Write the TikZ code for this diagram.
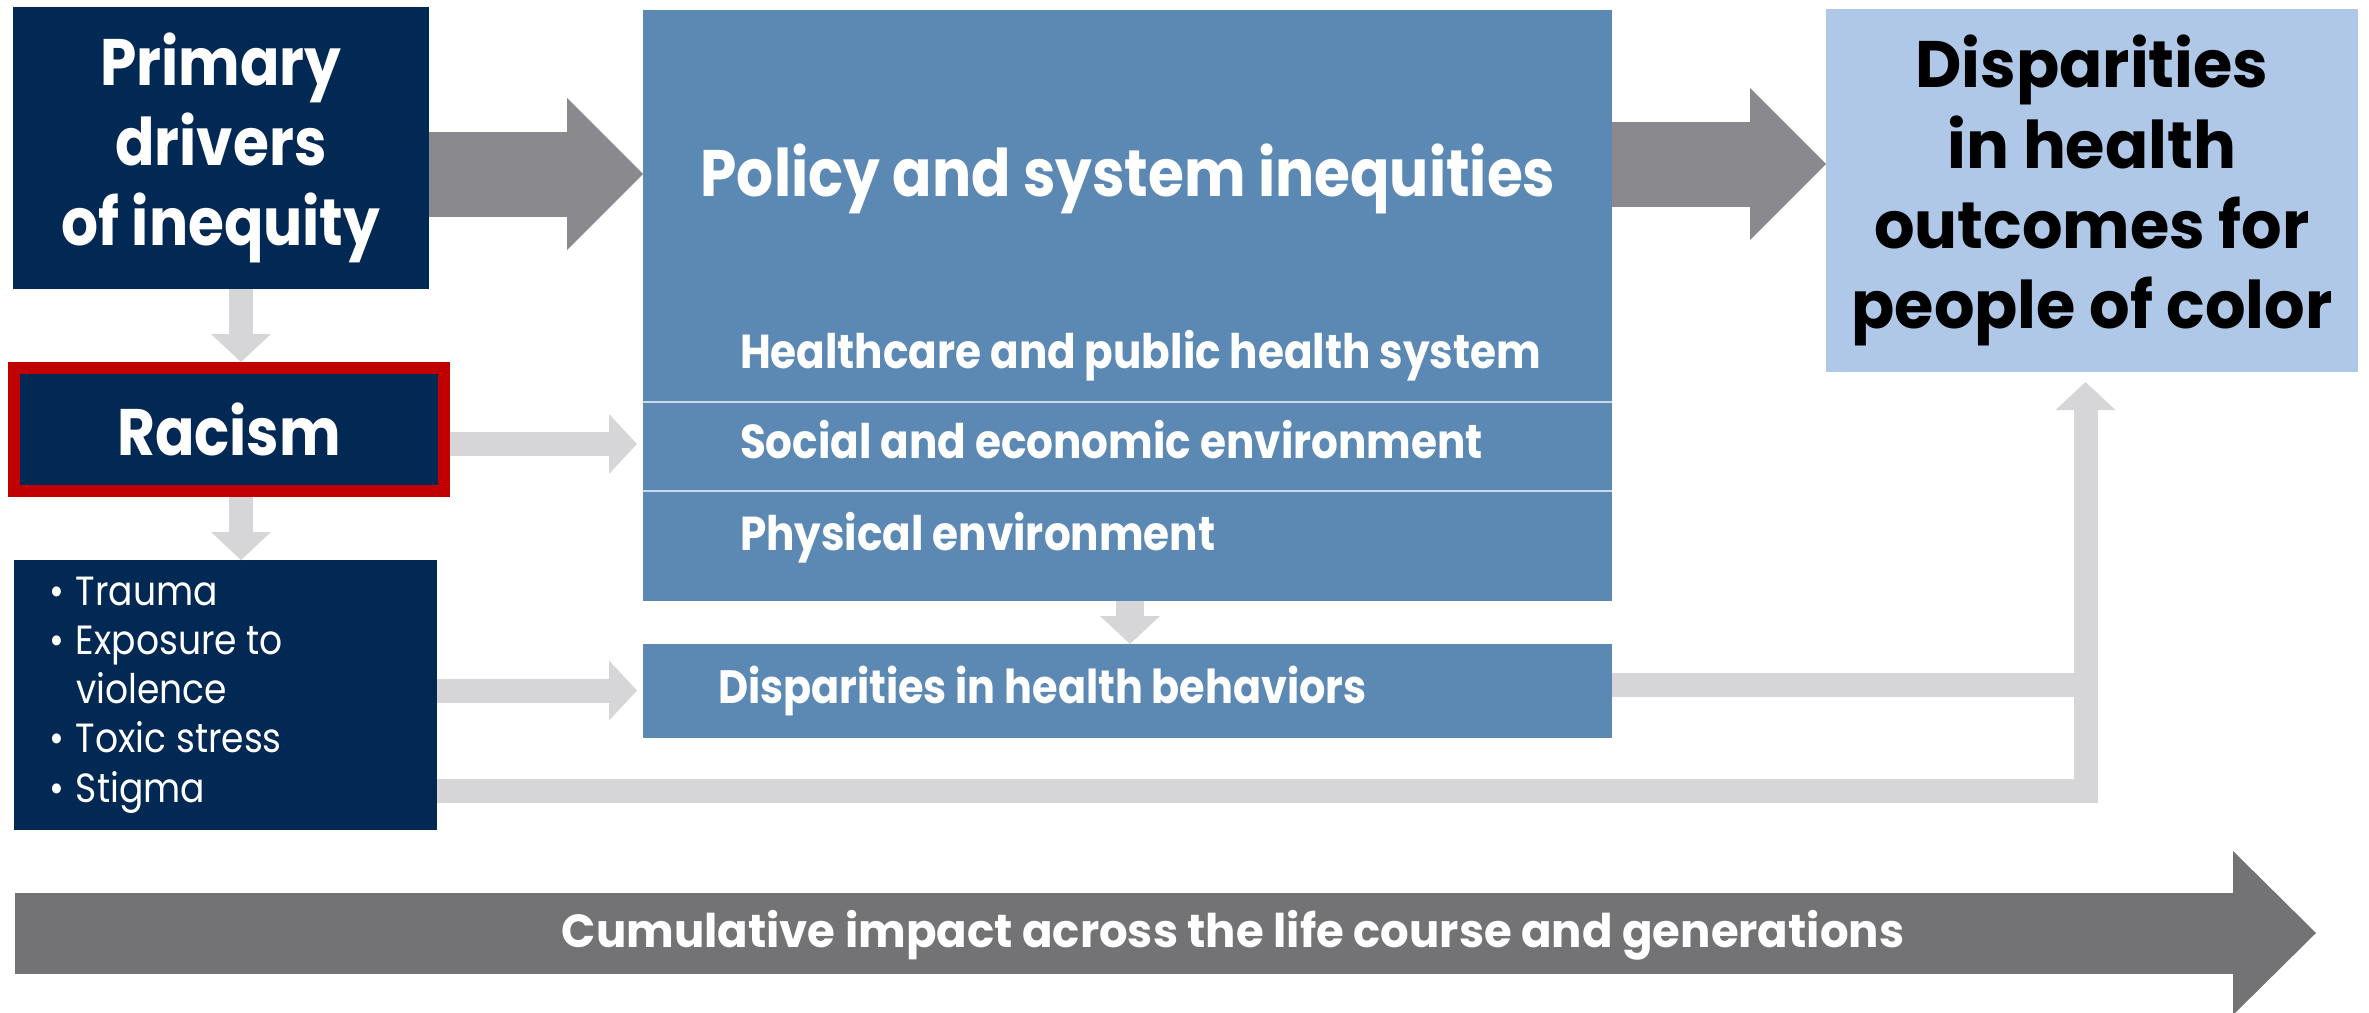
\documentclass[tikz,border=0pt]{standalone}
\usepackage{fontspec}
\setmainfont{Poppins}[FakeStretch=0.885]
\newfontfamily\widefont{Poppins}[FakeStretch=0.97]
\usepackage{tikz}
\usetikzlibrary{arrows.meta}
\definecolor{navy}{RGB}{2,40,84}
\definecolor{racered}{RGB}{192,0,0}
\definecolor{polblue}{RGB}{92,137,180}
\definecolor{lightblue}{RGB}{176,200,232}
\definecolor{arrowgrey}{RGB}{138,137,142}
\definecolor{linkgrey}{RGB}{214,214,217}
\definecolor{bargrey}{RGB}{115,115,117}
\definecolor{divider}{RGB}{200,216,232}
\tikzset{basic/.style={inner sep=0pt,outer sep=0pt,text=white,align=center,
                       font=\bfseries\fontsize{18.7}{22.8}\selectfont}}
\tikzset{darkbox/.style={basic,fill=navy}}
\tikzset{bluebox/.style={basic,fill=polblue}}
\tikzset{bigarrow/.style={draw=arrowgrey,line width=0.85cm,
                          -{Triangle[width=1.52cm,length=0.76cm,line width=0pt]}}}
\tikzset{linkarrow/.style={draw=linkgrey,line width=0.24cm,
                           -{Triangle[width=0.60cm,length=0.28cm,line width=0pt]}}}
\newcommand{\bul}{\makebox[0.27cm][l]{\textbullet}}

\begin{document}
\begin{tikzpicture}[x=1cm,y=-1cm]
  \tikzstyle{subitem}=[basic,anchor=base west,font=\bfseries\fontsize{13.55}{16}\selectfont]
  \useasboundingbox (0,0) rectangle (23.69,10.13);
  % left column
  \node (primary) [darkbox,minimum width=4.16cm,minimum height=2.82cm] at (2.21,1.48)
        {Primary\\drivers\\of inequity};
  \node (racism) [darkbox,draw=racered,line width=0.12cm,outer sep=0.06cm,
                  minimum width=4.30cm,minimum height=1.23cm] at (2.29,4.295) {Racism};
  \node (traits) [darkbox,font=\fontsize{11.6}{14}\selectfont,align=flush left,text width=3.53cm,
                  inner xsep=0.35cm,minimum width=4.23cm,minimum height=2.70cm] at (2.255,6.95)
        {\bul Trauma\\ \bul Exposure to\\ \hphantom{\bul}violence\\ \bul Toxic stress\\ \bul Stigma};
  % middle column
  \node (policy) [bluebox,minimum width=9.69cm,minimum height=5.91cm] at (11.275,3.055) {};
  \node (ptitle) [basic,anchor=base] at (11.28,1.96) {Policy and system inequities};
  \draw[divider,line width=0.02cm] (policy.west |- 0,4.02) -- (policy.east |- 0,4.02);
  \draw[divider,line width=0.02cm] (policy.west |- 0,4.91) -- (policy.east |- 0,4.91);
  \node (hcare) [subitem] at (7.40,3.68) {Healthcare and public health system};
  \node (socenv) [subitem] at (7.40,4.58) {Social and economic environment};
  \node (physenv) [subitem] at (7.40,5.50) {Physical environment};
  \node (behaviors) [bluebox,font=\bfseries\fontsize{13.3}{16}\selectfont,align=flush left,
                     text width=8.19cm,inner xsep=0.75cm,minimum width=9.69cm,
                     minimum height=0.94cm] at (11.275,6.91) {Disparities in health behaviors};
  % right column
  \node (outcomes) [basic,fill=lightblue,text=black,font=\widefont\bfseries\fontsize{18.7}{22.8}\selectfont,
                    minimum width=5.32cm,minimum height=3.63cm]
        at (20.92,1.905) {Disparities\\in health\\outcomes for\\people of color};

  % connectors
  \draw[bigarrow] (primary.east |- 0,1.74) -- (policy.west |- 0,1.74);
  \draw[bigarrow] (policy.east |- 0,1.64) -- (outcomes.west |- 0,1.64);
  \draw[linkarrow] (2.41,0 |- primary.south) -- (2.41,0 |- racism.north);
  \draw[linkarrow] (2.41,0 |- racism.south) -- (2.41,0 |- traits.north);
  \draw[linkarrow,shorten >=0.06cm] (racism.east |- 0,4.44) -- (policy.west |- 0,4.44);
  \draw[linkarrow,shorten >=0.06cm] (traits.east |- 0,6.905) -- (behaviors.west |- 0,6.905);
  \draw[linkarrow,line width=0.28cm] (11.30,0 |- policy.south) -- (11.30,0 |- behaviors.north);
  \draw[linkarrow,shorten >=0.10cm] (traits.east |- 0,7.91) -| (20.855,0 |- outcomes.south);
  \draw[draw=linkgrey,line width=0.24cm] (behaviors.east |- 0,6.85) -- (20.855,6.85);

  % life course bar
  \coordinate (lifestart) at (0.15,9.33);
  \coordinate (lifeend) at (23.16,9.33);
  \draw[draw=bargrey,line width=0.81cm,-{Triangle[width=1.64cm,length=0.83cm,line width=0pt]}]
        (lifestart) -- (lifeend);
  \node (life) [basic,anchor=base,font=\widefont\bfseries\fontsize{13.2}{15}\selectfont] at (12.33,9.47)
        {Cumulative impact across the life course and generations};
\end{tikzpicture}
\end{document}
